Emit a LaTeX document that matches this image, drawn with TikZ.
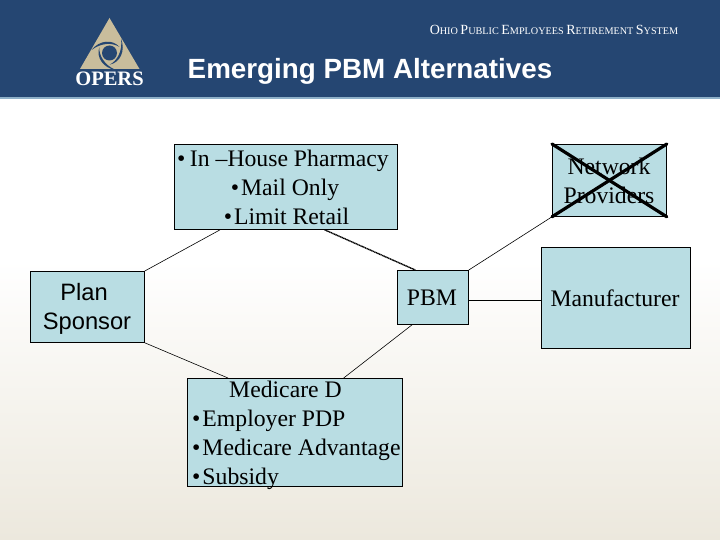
\documentclass[tikz,border=0pt]{standalone}
\usepackage{fontspec}
\setmainfont{Liberation Serif}
\setsansfont{Liberation Sans}
\usetikzlibrary{calc}
\definecolor{hdrblue}{HTML}{254672}
\definecolor{hdrline}{HTML}{8FB0C8}
\definecolor{boxfill}{HTML}{B9DDE3}
\definecolor{logotan}{HTML}{C9BD9C}
\definecolor{bgend}{HTML}{ECE8DD}
\newcommand{\bodyfont}{\fontsize{23.7}{29}\selectfont}
\newcommand{\bul}{•\kern2pt}
\newcommand{\lc}[1]{{\fontsize{10.2}{12}\selectfont #1}}
\newcommand{\uc}[1]{{\fontsize{14}{12}\selectfont #1}}
\tikzset{
  boxnode/.style={draw=black,fill=boxfill,line width=0.8pt,inner sep=0pt,anchor=north west},
  serifblock/.style={font=\bodyfont,inner sep=0pt,align=center,text=black},
  sansblock/.style={font=\sffamily\bodyfont,inner sep=0pt,align=center,text=black},
  conn/.style={draw=black,line width=0.6pt},
  dotconn/.style={draw=black,line width=1.4pt,dash pattern=on 1.2pt off 0.5pt},
  crossline/.style={draw=black,line width=3.2pt,line cap=round}
}
\begin{document}
\begin{tikzpicture}[x=1pt,y=-1pt]
\useasboundingbox (0,0) rectangle (720,540);
% background
\fill[white] (0,0) rectangle (720,265);
\shade[top color=white,bottom color=bgend] (0,260) rectangle (720,540);
% header
\fill[hdrblue] (0,0) rectangle (720,97);
\fill[hdrline] (0,97) rectangle (720,99);
% logo
\fill[logotan] (109.5,18) -- (139.5,69) -- (80,69) -- cycle;
\foreach \a in {0,120,240}{
  \begin{scope}[shift={(109.5,53)},rotate=\a]
    \fill[hdrblue] (-18,-3) .. controls (-10,-13) and (3,-14) .. (10,-6)
      .. controls (3,-10.5) and (-8,-10.5) .. (-18,-3) -- cycle;
  \end{scope}
}
\fill[hdrblue] (109.5,53) circle (7.5);
\node[font=\bfseries\fontsize{20.5}{20}\selectfont,text=white,inner sep=0pt] (logotext) at (109.5,79) {OPERS};
\node[text=white,inner sep=0pt] (system) at (554,30)
  {\uc{O}\lc{HIO} \uc{P}\lc{UBLIC} \uc{E}\lc{MPLOYEES} \uc{R}\lc{ETIREMENT} \uc{S}\lc{YSTEM}};
\node[font=\sffamily\bfseries\fontsize{27.8}{30}\selectfont,text=white,inner sep=0pt] (title) at (370,71) {Emerging PBM Alternatives};
% boxes
\node[boxnode,minimum width=223pt,minimum height=85pt] (inhouse) at (174,144) {};
\node[boxnode,minimum width=114pt,minimum height=72pt] (network) at (552,144) {};
\node[boxnode,minimum width=149pt,minimum height=101pt] (manu) at (541,247) {};
\node[boxnode,minimum width=71pt,minimum height=54pt] (pbm) at (397,270) {};
\node[boxnode,minimum width=114pt,minimum height=71pt] (plan) at (30,271) {};
\node[boxnode,minimum width=215pt,minimum height=108pt] (medicare) at (187,378) {};
% connectors
\draw[conn] (plan.north east) -- ($(inhouse.south west)!0.206!(inhouse.south east)$);
\draw[dotconn] ($(inhouse.south west)!0.673!(inhouse.south east)$) -- ($(pbm.north west)!0.254!(pbm.north east)$);
\draw[conn] (pbm.north east) -- (network.south west);
\draw[conn] ($(pbm.east)+(0,3)$) -- ($(manu.west)+(0,2.5)$);
\draw[conn] (plan.south east) -- ($(medicare.north west)!0.19!(medicare.north east)$);
\draw[conn] ($(pbm.south west)!0.21!(pbm.south east)$) -- ($(medicare.north west)!0.726!(medicare.north east)$);
% texts
\node[serifblock,anchor=north] (inhousetext) at (283,149.5) {•\kern4.5pt In –House Pharmacy\\\hspace*{4pt}\bul Mail Only\hspace*{0pt}\\\hspace*{7pt}\bul Limit Retail};
\node[serifblock] (networktext) at (609,181) {Network\\Providers};
\node[serifblock] (manutext) at (615,298) {Manufacturer};
\node[serifblock] (pbmtext) at (432,298) {PBM};
\node[sansblock] (plantext) at (87,309) {Plan\hspace*{6pt}\\Sponsor};
\node[serifblock,align=left,anchor=north west] (medicaretext) at (192,380.5) {\hspace*{37pt}Medicare D\\\bul Employer PDP\\\bul Medicare Advantage\\\bul Subsidy};
% cross
\draw[crossline] (network.north west) -- (network.south east);
\draw[crossline] (network.south west) -- (network.north east);
\end{tikzpicture}
\end{document}
